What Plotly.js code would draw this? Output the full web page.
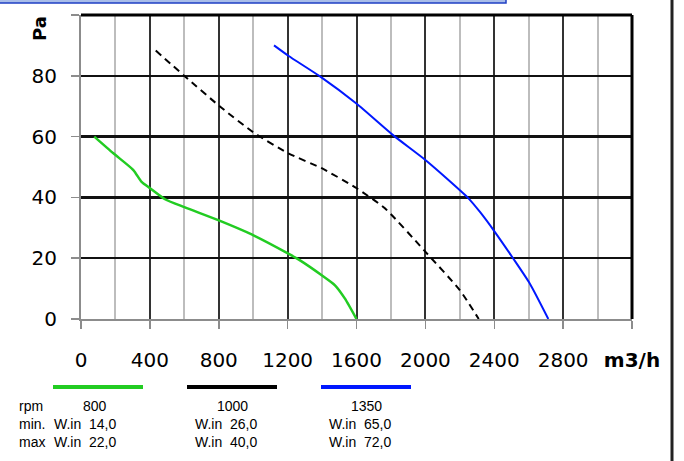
<!DOCTYPE html>
<html>
<head>
<meta charset="utf-8">
<script src="https://cdn.plot.ly/plotly-3.0.1.min.js"></script>
<style>
  html, body { margin: 0; padding: 0; background: #fff; }
  #chart { width: 684px; height: 461px; }
</style>
</head>
<body>
<div id="chart"></div>
<script>
// ---- data ----
const rpm = ['800', '1000', '1350'];
const wMin = ['14,0', '26,0', '65,0'];
const wMax = ['22,0', '40,0', '72,0'];
const colors = ['#22cc22', '#000000', '#0018ff'];

const flow800  = [77, 188, 304, 352, 401, 488, 604, 797, 991, 1204, 1272, 1398, 1475, 1533, 1600];
const pres800  = [60.0, 54.5, 49.0, 45.1, 43.0, 39.4, 36.7, 32.5, 27.8, 21.5, 19.3, 14.4, 11.1, 6.7, 0];

const flow1000 = [434, 604, 807, 1001, 1204, 1398, 1601, 1765, 2002, 2201, 2310];
const pres1000 = [88.3, 79.8, 69.9, 61.4, 54.5, 49.6, 43.0, 36.4, 22.0, 9.4, 0];

const flow1350 = [1121, 1204, 1388, 1601, 1814, 2007, 2245, 2317, 2404, 2510, 2607, 2714];
const pres1350 = [90.0, 86.6, 79.8, 70.8, 60.4, 52.0, 40.0, 35.2, 28.6, 19.9, 11.6, 0];

const xTickVals = [0, 400, 800, 1200, 1600, 2000, 2400, 2800, 3200];
const xTickText = ['0', '400', '800', '1200', '1600', '2000', '2400', '2800', '<b>m3/h</b>'];
const yTickVals = [0, 20, 40, 60, 80, 100];
const yTickText = ['0', '20', '40', '60', '80', ''];

// ---- layout geometry (pixels) ----
const W = 684, H = 461;
const M = { l: 81, r: 52, t: 15, b: 142 };
const PW = W - M.l - M.r, PH = H - M.t - M.b;
const px = x => (x - M.l) / PW;          // pixel -> paper x
const py = y => (H - M.b - y) / PH;      // pixel -> paper y

const traces = [
  { x: flow800, y: pres800, mode: 'lines', line: { color: colors[0], width: 2.5, shape: 'spline', smoothing: 0.6 } },
  { x: flow1000, y: pres1000, mode: 'lines', line: { color: colors[1], width: 2, dash: '7px,5px', shape: 'spline', smoothing: 0.6 } },
  { x: flow1350, y: pres1350, mode: 'lines', line: { color: colors[2], width: 2, shape: 'spline', smoothing: 0.6 } }
];

const tickFont = { family: 'DejaVu Sans', size: 20, color: '#000' };
const legFont = { family: '"Liberation Sans Narrow", "Liberation Sans", Arial, sans-serif', size: 14, color: '#000' };

const shapes = [
  // top and right border of the plot
  { type: 'line', xref: 'paper', yref: 'paper', x0: 0, x1: 1, y0: 1, y1: 1, line: { color: '#000', width: 3 } },
  { type: 'line', xref: 'paper', yref: 'paper', x0: 1, x1: 1, y0: 0, y1: 1, line: { color: '#000', width: 3 } },
  // blue header band (cut off at top)
  { type: 'rect', xref: 'paper', yref: 'paper', x0: px(-2), x1: px(506), y0: py(3), y1: py(-4),
    fillcolor: '#a9bde9', line: { color: '#1f3fc4', width: 1.5 } },
  // right frame line
  { type: 'line', xref: 'paper', yref: 'paper', x0: px(672), x1: px(672), y0: py(-2), y1: py(463), line: { color: '#222', width: 3 } }
];

// legend line samples
const legX0 = [53, 187, 321];
const legX1 = [143, 277, 411];
for (let i = 0; i < rpm.length; i++) {
  shapes.push({ type: 'line', xref: 'paper', yref: 'paper', x0: px(legX0[i]), x1: px(legX1[i]), y0: py(387), y1: py(387),
    line: { color: colors[i], width: 4 } });
}

const annotations = [
  { text: '<b>Pa</b>', xref: 'paper', yref: 'paper', x: px(40), y: py(29), showarrow: false, textangle: -90,
    font: { family: 'DejaVu Sans', size: 18, color: '#000' }, xanchor: 'center', yanchor: 'middle' },
  { text: 'rpm', xref: 'paper', yref: 'paper', x: px(17), y: py(406), showarrow: false, xanchor: 'left', yanchor: 'middle', font: legFont },
  { text: 'min.', xref: 'paper', yref: 'paper', x: px(17), y: py(424), showarrow: false, xanchor: 'left', yanchor: 'middle', font: legFont },
  { text: 'max', xref: 'paper', yref: 'paper', x: px(17), y: py(442), showarrow: false, xanchor: 'left', yanchor: 'middle', font: legFont }
];
const colC = [95, 232, 366];
for (let i = 0; i < rpm.length; i++) {
  annotations.push({ text: rpm[i], xref: 'paper', yref: 'paper', x: px(colC[i]), y: py(406), showarrow: false, xanchor: 'center', yanchor: 'middle', font: legFont });
  const wx = i === 0 ? 52 : colC[i] - 39;
  annotations.push({ text: 'W.in&nbsp;&nbsp;' + wMin[i], xref: 'paper', yref: 'paper', x: px(wx), y: py(424), showarrow: false, xanchor: 'left', yanchor: 'middle', font: legFont });
  annotations.push({ text: 'W.in&nbsp;&nbsp;' + wMax[i], xref: 'paper', yref: 'paper', x: px(wx), y: py(442), showarrow: false, xanchor: 'left', yanchor: 'middle', font: legFont });
}

const layout = {
  width: W, height: H,
  margin: M,
  paper_bgcolor: '#fff', plot_bgcolor: '#fff',
  showlegend: false,
  xaxis: {
    range: [0, 3200], tickvals: xTickVals, ticktext: xTickText,
    showgrid: true, gridcolor: '#333', gridwidth: 2,
    minor: { dtick: 200, tick0: 0, showgrid: true, gridcolor: '#bdbdbd', gridwidth: 2, ticks: '' },
    showline: true, linecolor: '#8c8c8c', linewidth: 2,
    ticks: 'outside', ticklen: 8, tickcolor: '#8c8c8c', tickwidth: 1.5,
    tickfont: tickFont, ticklabelstandoff: 14, zeroline: false, fixedrange: true
  },
  yaxis: {
    range: [0, 100], tickvals: yTickVals, ticktext: yTickText,
    showgrid: true, gridcolor: '#111', gridwidth: 2.5,
    showline: true, linecolor: '#8c8c8c', linewidth: 2,
    ticks: 'outside', ticklen: 8, tickcolor: '#8c8c8c', tickwidth: 1.5,
    tickfont: tickFont, ticklabelstandoff: 10, zeroline: false, fixedrange: true
  },
  shapes: shapes,
  annotations: annotations
};

Plotly.newPlot('chart', traces, layout, { displayModeBar: false, staticPlot: true });
</script>
</body>
</html>
